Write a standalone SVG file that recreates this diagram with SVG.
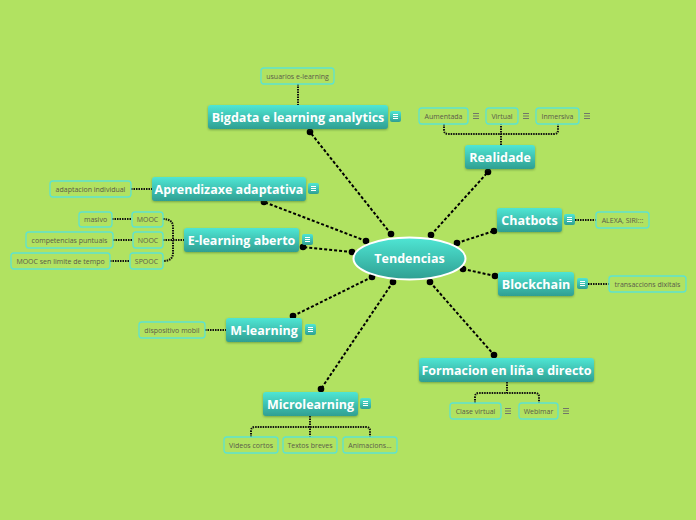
<svg xmlns="http://www.w3.org/2000/svg" width="696" height="520" viewBox="0 0 696 520">
<defs>
<linearGradient id="tg" x1="0" y1="0" x2="0" y2="1">
<stop offset="0" stop-color="#4fe6d4"/>
<stop offset="1" stop-color="#2f9f92"/>
</linearGradient>
<filter id="sh" x="-10%" y="-20%" width="120%" height="160%">
<feDropShadow dx="0" dy="1" stdDeviation="0.8" flood-color="#2a5a20" flood-opacity="0.45"/>
</filter>
<g id="ic">
<rect x="0" y="0" width="11" height="11" rx="2" fill="url(#tg)"/>
<path d="M3 3.5H8M3 5.5H8M3 7.5H8" stroke="#ffffff" stroke-width="1"/>
</g>
<path id="gi" d="M0 -2.5H6M0 0H6M0 2.5H6" stroke="#6a6a6a" stroke-width="0.9" fill="none"/>
</defs>
<style>
.main rect.b{fill:url(#tg);filter:url(#sh)}
.main text{font-family:"Open Sans","Noto Sans","DejaVu Sans",sans-serif;font-weight:bold;font-size:12.5px;fill:#ffffff;text-anchor:middle}
.sub rect{fill:none;stroke:#5ee3cf;stroke-width:1.3}
.sub text{font-family:"Open Sans","Noto Sans","DejaVu Sans",sans-serif;font-size:7px;fill:#5a5a4a;text-anchor:middle}
.mc{stroke:#000;stroke-width:2;stroke-dasharray:3,2;fill:none}
.sc{stroke:#111;stroke-width:2;stroke-dasharray:1.5,1;fill:none}
.dot{fill:#000}
</style>
<rect width="696" height="520" fill="#b1e261"/>

<g id="connectors">
<path class="mc" d="M391 234L310 132M366 241L264 202M352 252L303 247M372 277L293 316M393 282L321 389M430 282L494 355M463 269L495 276M457 243L494 231M431 235L488 172"/>
<g class="dot">
<circle cx="391" cy="234" r="3.3"/><circle cx="310" cy="132" r="3.3"/>
<circle cx="366" cy="241" r="3.3"/><circle cx="264" cy="202" r="3.3"/>
<circle cx="352" cy="252" r="3.3"/><circle cx="303" cy="247" r="3.3"/>
<circle cx="372" cy="277" r="3.3"/><circle cx="293" cy="316" r="3.3"/>
<circle cx="393" cy="282" r="3.3"/><circle cx="321" cy="389" r="3.3"/>
<circle cx="430" cy="282" r="3.3"/><circle cx="494" cy="355" r="3.3"/>
<circle cx="463" cy="269" r="3.3"/><circle cx="495" cy="276" r="3.3"/>
<circle cx="457" cy="243" r="3.3"/><circle cx="494" cy="231" r="3.3"/>
<circle cx="431" cy="235" r="3.3"/><circle cx="488" cy="172" r="3.3"/>
</g>
<path class="sc" d="M298 84V105M131 189H152M112 219H132M113 240H133M110 261H130M205 330H226M575 220H596M588 284H609"/>
<path class="sc" d="M163 219Q173 219 173 227V253Q173 261 163 261M163 240H184"/>
<path class="sc" d="M501 145V124M444 124V130Q444 134 448 134H554Q558 134 558 130V124"/>
<path class="sc" d="M507 382V393M475 403V397Q475 393 479 393H535Q539 393 539 397V403"/>
<path class="sc" d="M310 416V437M251 437V431Q251 427 255 427H366Q370 427 370 431V437"/>
</g>

<g id="center" class="main">
<ellipse cx="409.5" cy="258.5" rx="56" ry="21" fill="url(#tg)" stroke="#ffffff" stroke-width="2"/>
<text x="409.5" y="263">Tendencias</text>
</g>

<g id="bigdata" class="main"><rect class="b" x="208" y="105" width="180" height="24" rx="3"/><text x="298" y="121.5">Bigdata e learning analytics</text><use href="#ic" x="390" y="111"/></g>
<g id="aprendizaxe" class="main"><rect class="b" x="152" y="177" width="154" height="24" rx="3"/><text x="229" y="193.5">Aprendizaxe adaptativa</text><use href="#ic" x="308" y="183"/></g>
<g id="elearning" class="main"><rect class="b" x="184" y="228" width="115" height="24" rx="3"/><text x="241.5" y="244.5">E-learning aberto</text><use href="#ic" x="302" y="234"/></g>
<g id="mlearning" class="main"><rect class="b" x="226" y="318" width="76" height="24" rx="3"/><text x="264" y="334.5">M-learning</text><use href="#ic" x="305" y="324"/></g>
<g id="microlearning" class="main"><rect class="b" x="263" y="392" width="95" height="24" rx="3"/><text x="310.5" y="408.5">Microlearning</text><use href="#ic" x="360" y="398"/></g>
<g id="formacion" class="main"><rect class="b" x="419" y="358" width="175" height="24" rx="3"/><text x="506.5" y="374.5">Formacion en liña e directo</text></g>
<g id="blockchain" class="main"><rect class="b" x="498" y="272" width="76" height="24" rx="3"/><text x="536" y="288.5">Blockchain</text><use href="#ic" x="577" y="278"/></g>
<g id="chatbots" class="main"><rect class="b" x="497" y="208" width="65" height="24" rx="3"/><text x="529.5" y="224.5">Chatbots</text><use href="#ic" x="564" y="214"/></g>
<g id="realidade" class="main"><rect class="b" x="465" y="145" width="70" height="24" rx="3"/><text x="500" y="161.5">Realidade</text></g>

<g id="usuarios" class="sub"><rect x="261" y="68" width="73" height="16" rx="3"/><text x="297.5" y="78.5">usuarios e-learning</text></g>
<g id="adaptacion" class="sub"><rect x="50" y="181" width="81" height="16" rx="3"/><text x="90.5" y="191.5">adaptacion individual</text></g>
<g id="masivo" class="sub"><rect x="79" y="212" width="33" height="15" rx="3"/><text x="95.5" y="222">masivo</text></g>
<g id="mooc" class="sub"><rect x="132" y="212" width="31" height="15" rx="3"/><text x="147.5" y="222">MOOC</text></g>
<g id="competencias" class="sub"><rect x="26" y="232" width="87" height="16" rx="3"/><text x="69.5" y="242.5">competencias puntuais</text></g>
<g id="nooc" class="sub"><rect x="133" y="232" width="30" height="16" rx="3"/><text x="148" y="242.5">NOOC</text></g>
<g id="moocsen" class="sub"><rect x="11" y="253" width="99" height="16" rx="3"/><text x="60.5" y="263.5">MOOC sen limite de tempo</text></g>
<g id="spooc" class="sub"><rect x="130" y="253" width="33" height="16" rx="3"/><text x="146.5" y="263.5">SPOOC</text></g>
<g id="dispositivo" class="sub"><rect x="139" y="322" width="66" height="16" rx="3"/><text x="172" y="332.5">dispositivo mobil</text></g>
<g id="aumentada" class="sub"><rect x="419" y="108" width="49" height="16" rx="3"/><text x="443.5" y="118.5">Aumentada</text><use href="#gi" x="473" y="116"/></g>
<g id="virtual" class="sub"><rect x="486" y="108" width="32" height="16" rx="3"/><text x="502" y="118.5">Virtual</text><use href="#gi" x="523" y="116"/></g>
<g id="inmersiva" class="sub"><rect x="536" y="108" width="43" height="16" rx="3"/><text x="557.5" y="118.5">Inmersiva</text><use href="#gi" x="584" y="116"/></g>
<g id="alexa" class="sub"><rect x="596" y="212" width="53" height="16" rx="3"/><text x="622.5" y="222.5">ALEXA, SIRI:::</text></g>
<g id="transaccions" class="sub"><rect x="609" y="276" width="77" height="16" rx="3"/><text x="647.5" y="286.5">transaccions dixitais</text></g>
<g id="clase" class="sub"><rect x="450" y="403" width="51" height="16" rx="3"/><text x="475.5" y="413.5">Clase virtual</text><use href="#gi" x="505" y="411"/></g>
<g id="webimar" class="sub"><rect x="519" y="403" width="39" height="16" rx="3"/><text x="538.5" y="413.5">Webimar</text><use href="#gi" x="563" y="411"/></g>
<g id="videos" class="sub"><rect x="224" y="437" width="54" height="16" rx="3"/><text x="251" y="447.5">Videos cortos</text></g>
<g id="textos" class="sub"><rect x="283" y="437" width="54" height="16" rx="3"/><text x="310" y="447.5">Textos breves</text></g>
<g id="animacions" class="sub"><rect x="343" y="437" width="54" height="16" rx="3"/><text x="370" y="447.5">Animacions...</text></g>
</svg>
